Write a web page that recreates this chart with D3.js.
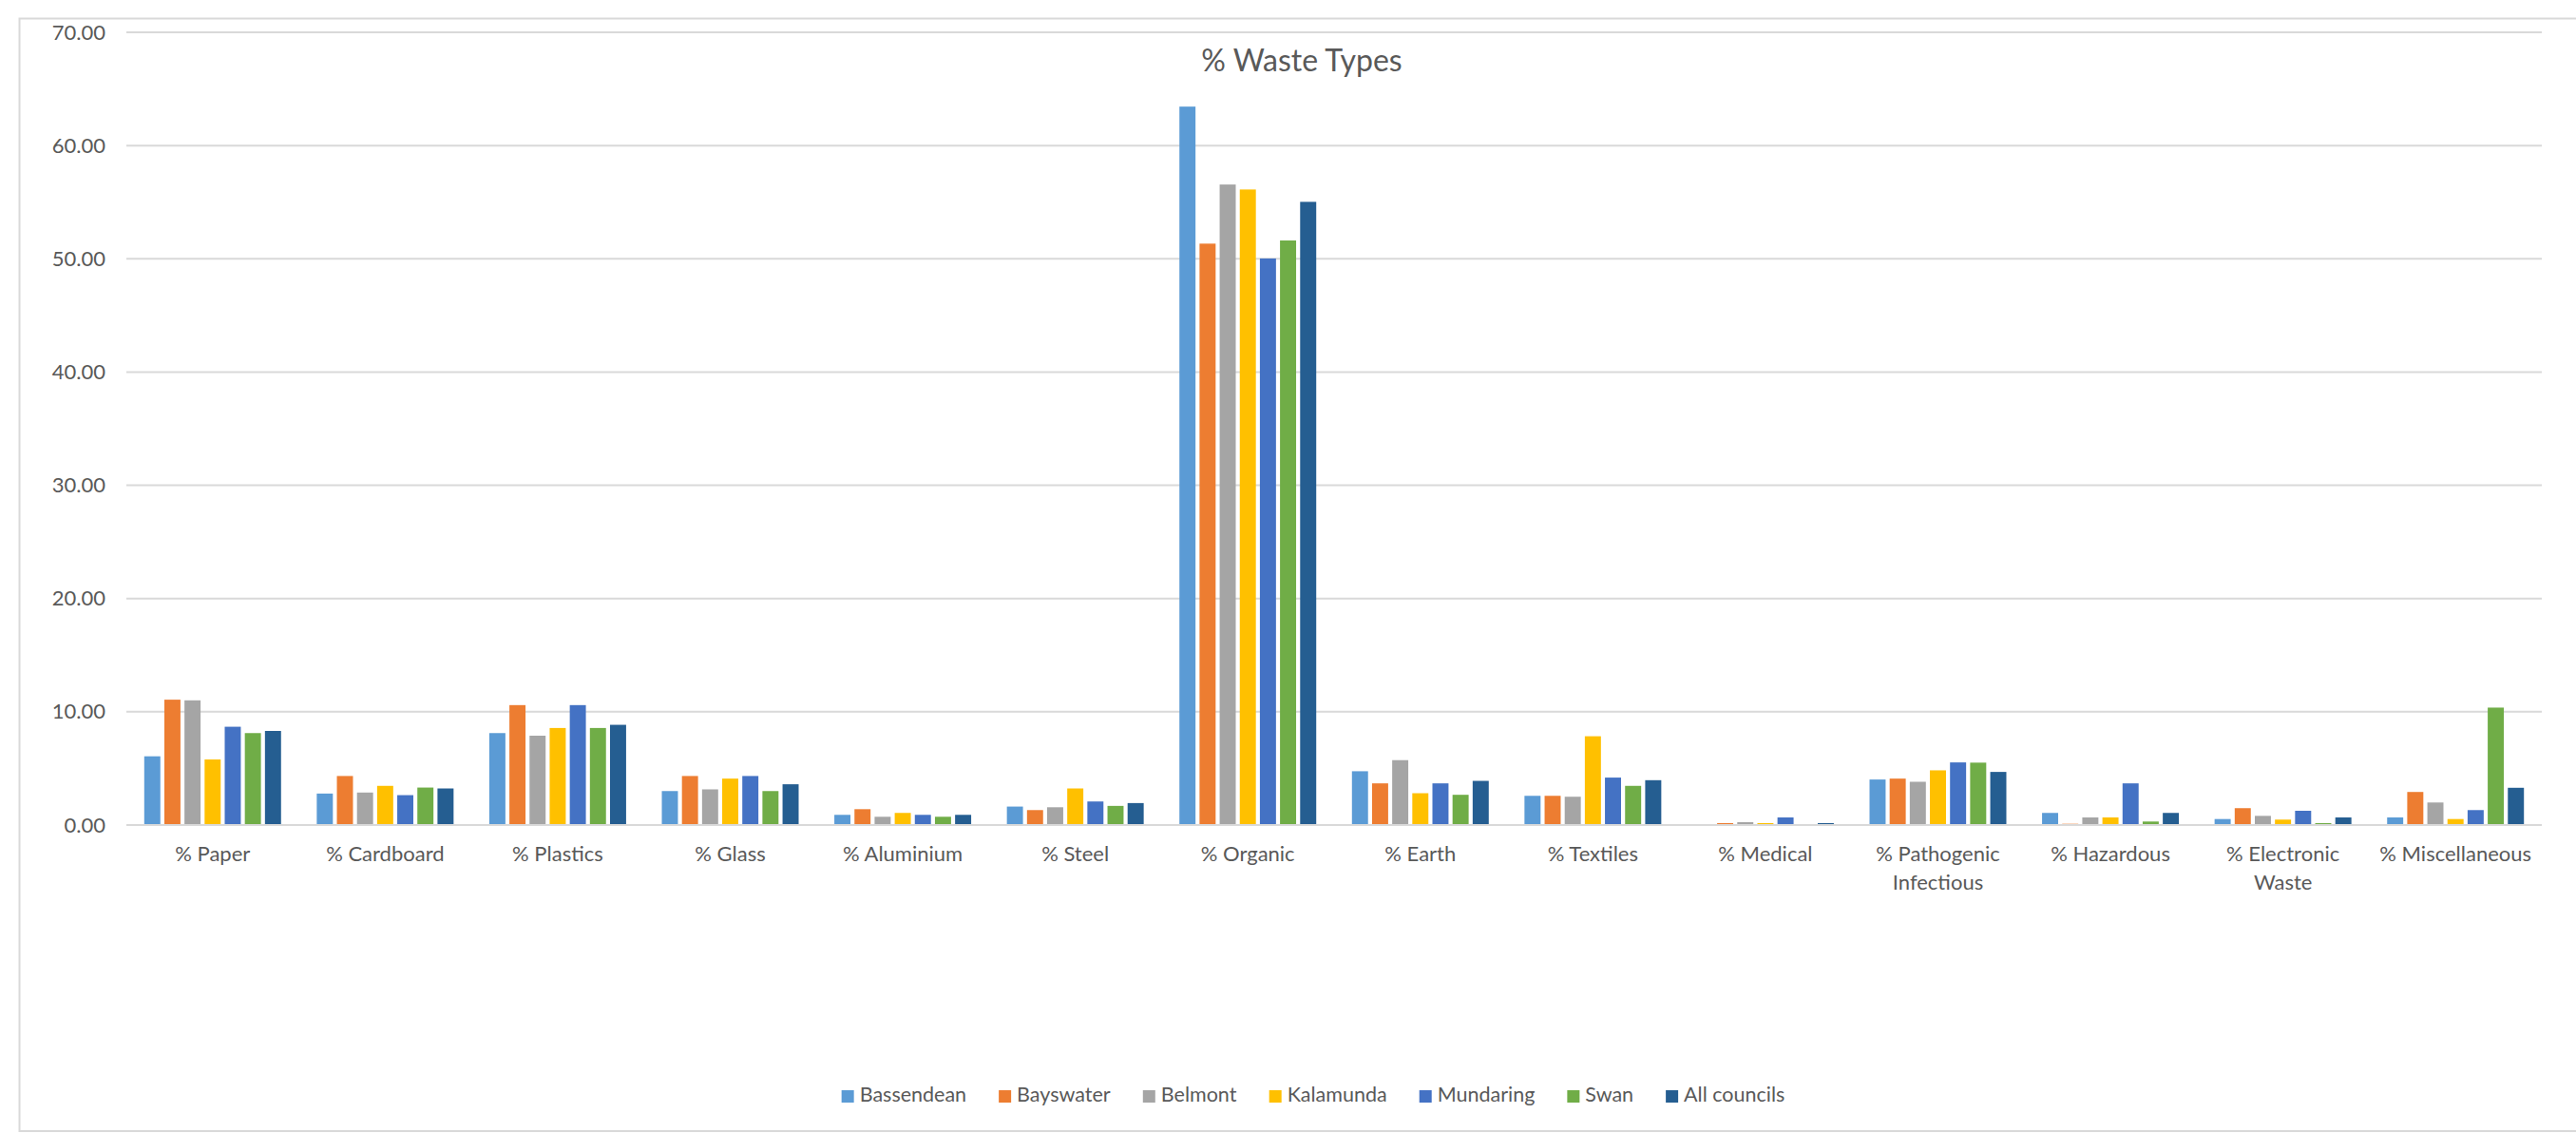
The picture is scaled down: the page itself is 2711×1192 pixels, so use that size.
<!DOCTYPE html>
<html>
<head>
<meta charset="utf-8">
<script src="https://cdn.jsdelivr.net/npm/d3@7"></script>
<style>
  html, body { margin: 0; padding: 0; background: #ffffff; }
  svg { display: block; }
  text { font-family: Lato, "Open Sans", "Noto Sans", sans-serif; fill: #595959; }
</style>
</head>
<body>
<svg id="chart" width="2711" height="1192"></svg>
<script>
// Waste composition by council (% of total)
const categories = [
  ["% Paper"], ["% Cardboard"], ["% Plastics"], ["% Glass"], ["% Aluminium"],
  ["% Steel"], ["% Organic"], ["% Earth"], ["% Textiles"], ["% Medical"],
  ["% Pathogenic", "Infectious"], ["% Hazardous"], ["% Electronic", "Waste"],
  ["% Miscellaneous"]
];
const seriesNames = ["Bassendean", "Bayswater", "Belmont", "Kalamunda", "Mundaring", "Swan", "All councils"];
const seriesColors = ["#5B9BD5", "#ED7D31", "#A5A5A5", "#FFC000", "#4472C4", "#70AD47", "#255E91"];

const bassendean  = [6.07, 2.78, 8.12, 3.00, 0.90, 1.63, 63.44, 4.75, 2.58, 0.03, 4.02, 1.07, 0.53, 0.67];
const bayswater   = [11.07, 4.33, 10.59, 4.33, 1.40, 1.32, 51.34, 3.68, 2.58, 0.17, 4.10, 0.11, 1.49, 2.92];
const belmont     = [11.01, 2.87, 7.89, 3.15, 0.73, 1.57, 56.56, 5.73, 2.50, 0.25, 3.82, 0.67, 0.81, 1.99];
const kalamunda   = [5.79, 3.46, 8.57, 4.10, 1.07, 3.23, 56.12, 2.81, 7.84, 0.17, 4.83, 0.67, 0.48, 0.53];
const mundaring   = [8.68, 2.64, 10.59, 4.33, 0.90, 2.08, 50.03, 3.68, 4.19, 0.67, 5.53, 3.68, 1.26, 1.32];
const swan        = [8.12, 3.31, 8.57, 3.00, 0.73, 1.69, 51.62, 2.67, 3.46, 0.03, 5.51, 0.31, 0.17, 10.37];
const allCouncils = [8.31, 3.23, 8.85, 3.60, 0.90, 1.94, 55.03, 3.90, 3.96, 0.17, 4.69, 1.07, 0.67, 3.29];

const seriesValues = [bassendean, bayswater, belmont, kalamunda, mundaring, swan, allCouncils];
const yTicks = [0, 10, 20, 30, 40, 50, 60, 70];
const chartTitle = "% Waste Types";

const svg = d3.select("#chart");
const W = 2711, H = 1192;
const plot = { left: 133, right: 2675, top: 34, bottom: 868 };

// Chart frame
svg.append("rect")
  .attr("x", 20.5).attr("y", 19.5)
  .attr("width", W).attr("height", 1190 - 19.5)
  .attr("fill", "#ffffff").attr("stroke", "#d9d9d9").attr("stroke-width", 2);

const catKeys = categories.map((c, i) => i);
const x0 = d3.scaleBand().domain(catKeys).range([plot.left, plot.right])
  .paddingInner(0.207).paddingOuter(0.1035);
const x1 = d3.scaleBand().domain(d3.range(seriesNames.length)).range([0, x0.bandwidth()])
  .paddingInner(0.2);
const y = d3.scaleLinear().domain([0, 70]).range([plot.bottom, plot.top]);

// Horizontal gridlines
svg.append("g").selectAll("line").data(yTicks).join("line")
  .attr("x1", plot.left).attr("x2", plot.right)
  .attr("y1", d => y(d)).attr("y2", d => y(d))
  .attr("stroke", "#d9d9d9").attr("stroke-width", 2);

// Y axis labels
const yAxis = d3.axisLeft(y).tickValues(yTicks).tickFormat(d3.format(".2f")).tickSize(0).tickPadding(22);
const yg = svg.append("g").attr("transform", `translate(${plot.left},0)`).call(yAxis);
yg.select(".domain").remove();
yg.selectAll("text").attr("font-size", 22).style("fill", "#595959")
  .style("font-family", "Lato, 'Open Sans', sans-serif");

// Bars
const groups = svg.append("g").selectAll("g").data(catKeys).join("g")
  .attr("transform", i => `translate(${x0(i)},0)`);
groups.selectAll("rect")
  .data(i => seriesValues.map((vals, s) => ({ s, v: vals[i] })))
  .join("rect")
  .attr("x", d => x1(d.s))
  .attr("width", x1.bandwidth())
  .attr("y", d => y(d.v))
  .attr("height", d => y(0) - y(d.v))
  .attr("fill", d => seriesColors[d.s]);

// Baseline
svg.append("line")
  .attr("x1", plot.left).attr("x2", plot.right)
  .attr("y1", y(0)).attr("y2", y(0))
  .attr("stroke", "#d9d9d9").attr("stroke-width", 2);

// Category labels (some on two lines)
const labels = svg.append("g").selectAll("text").data(catKeys).join("text")
  .attr("text-anchor", "middle")
  .attr("font-size", 22)
  .attr("x", i => x0(i) + x0.bandwidth() / 2)
  .attr("y", 906);
labels.selectAll("tspan").data(i => categories[i]).join("tspan")
  .attr("x", function () { return d3.select(this.parentNode).attr("x"); })
  .attr("dy", (d, k) => k === 0 ? 0 : 30)
  .text(d => d);

// Title
svg.append("text")
  .attr("x", 1370).attr("y", 75)
  .attr("text-anchor", "middle")
  .attr("font-size", 32)
  .text(chartTitle);

// Legend
const legend = svg.append("g");
const items = legend.selectAll("g").data(seriesNames).join("g");
items.append("rect").attr("width", 13).attr("height", 13).attr("y", -12)
  .attr("fill", (d, i) => seriesColors[i]);
items.append("text").attr("x", 19).attr("y", 0).attr("font-size", 21.5).text(d => d);
let cursor = 0;
const positions = [];
items.each(function () {
  const w = this.getBBox().width;
  positions.push(cursor);
  cursor += w + 34;
});
const totalW = cursor - 34;
const startX = 1382 - totalW / 2;
items.attr("transform", (d, i) => `translate(${startX + positions[i]},1159)`);
</script>
</body>
</html>
